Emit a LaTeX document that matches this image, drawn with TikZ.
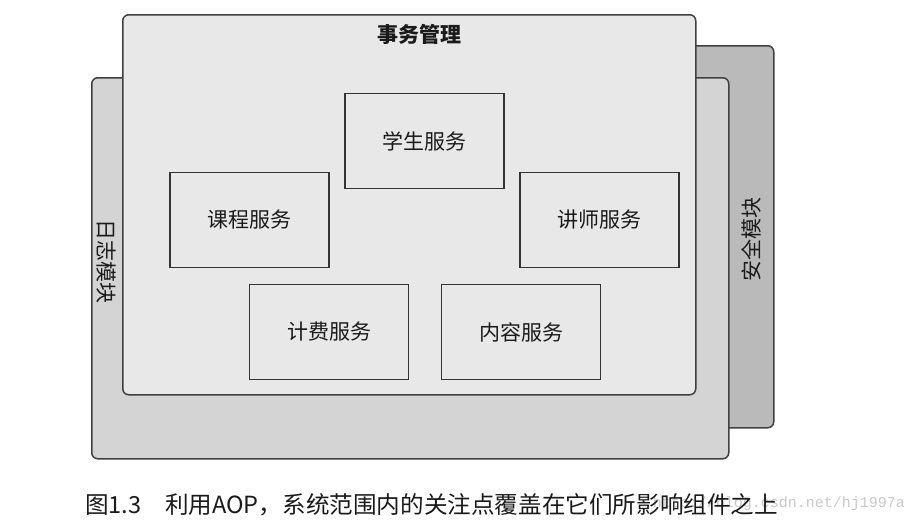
\documentclass[tikz,border=0pt]{standalone}
\usepackage{fontspec}
\setmainfont{Liberation Sans}
\newfontfamily\cjk{Noto Sans CJK SC}
\newfontfamily\wmfont{Liberation Mono}
\definecolor{backgray}{HTML}{BABABA}
\definecolor{midgray}{HTML}{D4D4D4}
\definecolor{frontgray}{HTML}{E8E8E8}
\definecolor{panelline}{HTML}{404040}
\definecolor{boxline}{HTML}{333333}
\definecolor{wmgray}{HTML}{C8C8C8}
\definecolor{captext}{HTML}{1A1A1A}
\begin{document}
\begin{tikzpicture}[x=1pt,y=-1pt,
  panel/.style={draw=panelline, line width=1.5pt, rounded corners=6pt, inner sep=0pt, anchor=north west},
  svc/.style={draw=boxline, line width=1.5pt, fill=frontgray, minimum width=159pt, minimum height=95pt, inner sep=0pt, text=captext, font=\cjk\fontsize{21}{21}\selectfont},
  sidelabel/.style={inner sep=0pt, text=captext, font=\cjk\fontsize{21}{21}\selectfont}]
\useasboundingbox (0,0) rectangle (918,528);
% back panel
\node[panel, fill=backgray, minimum width=643pt, minimum height=382pt] (aqpanel) at (130,45) {};
% middle panel
\node[panel, fill=midgray, minimum width=637pt, minimum height=381pt] (rzpanel) at (91,77) {};
% front panel
\node[panel, fill=frontgray, minimum width=573pt, minimum height=380pt] (swpanel) at (122,14) {};
% titles
\node[sidelabel, font=\cjk\bfseries\fontsize{21}{21}\selectfont] (swtitle) at (419,34) {事务管理};
\node[sidelabel, rotate=-90] (rztitle) at (106,261) {日志模块};
\node[sidelabel, rotate=90] (aqtitle) at (751,239) {安全模块};
% services
\node[svc] (xs) at (424.5,141) {学生服务};
\node[svc] (kc) at (249.5,220) {课程服务};
\node[svc] (js) at (599.5,220) {讲师服务};
\node[svc] (jf) at (329,332) {计费服务};
\node[svc] (nr) at (521,332) {内容服务};
% watermark and caption
\node[anchor=east, inner sep=0pt, text=wmgray, font=\wmfont\fontsize{15}{15}\selectfont] (wm) at (905,504) {http://blog.csdn.net/hj1997a};
\node[anchor=west, inner sep=0pt, text=captext, font=\cjk\fontsize{23.6}{23.6}\selectfont] (cap) at (85,505) {图1.3　利用AOP，系统范围内的关注点覆盖在它们所影响组件之上};
\end{tikzpicture}
\end{document}
